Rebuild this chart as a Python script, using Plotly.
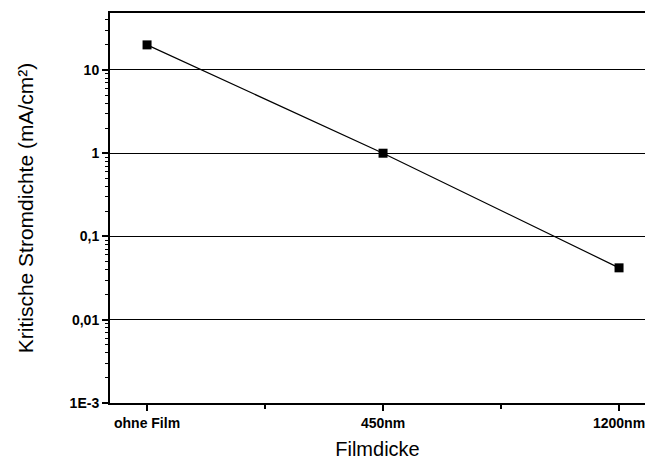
import plotly.graph_objects as go

categories = ["ohne Film", "450nm", "1200nm"]
current_density = [20, 1.0, 0.042]
y_tick_vals = [0.001, 0.01, 0.1, 1, 10]
y_tick_text = ["1E-3", "0,01", "0,1", "1", "10"]

x_pos = list(range(len(categories)))

fig = go.Figure()
fig.add_trace(go.Scatter(
    x=x_pos, y=current_density, mode="lines+markers",
    line=dict(color="black", width=1.2),
    marker=dict(symbol="square", size=9, color="black"),
    showlegend=False,
))

fig.update_layout(
    width=653, height=460,
    margin=dict(l=110, r=8, t=13, b=57),
    paper_bgcolor="white", plot_bgcolor="white",
    font=dict(family="Liberation Sans, Arial, sans-serif", color="black"),
)
fig.update_xaxes(
    automargin=False,
    range=[-0.157, 2.11],
    tickvals=x_pos, ticktext=categories,
    ticks="outside", ticklen=6, tickwidth=1.5, tickcolor="black",
    minor=dict(tickvals=[0.5, 1.5], ticks="outside", ticklen=4, tickwidth=1.5, tickcolor="black"),
    showline=True, linecolor="black", linewidth=2, mirror=True,
    showgrid=False, zeroline=False,
    tickfont=dict(size=14, weight="bold"),
    title=dict(text="Filmdicke", font=dict(size=20), standoff=13),
)
fig.update_yaxes(
    automargin=False,
    type="log", range=[-3, 1.684],
    tickvals=y_tick_vals, ticktext=y_tick_text,
    ticks="outside", ticklen=6, tickwidth=1.5, tickcolor="black",
    minor=dict(ticks="outside", ticklen=3, tickwidth=1, tickcolor="black", showgrid=False, dtick="D1"),
    showline=True, linecolor="black", linewidth=2,
    showgrid=True, gridcolor="black", gridwidth=1.3,
    zeroline=False,
    tickfont=dict(size=14, weight="bold"),
    title=dict(text="Kritische Stromdichte (mA/cm²)", font=dict(size=21), standoff=30),
)

fig.write_html(
    "out.html",
    config={"displayModeBar": False},
    post_script="document.body.style.margin='0';document.body.style.overflow='hidden';",
)
